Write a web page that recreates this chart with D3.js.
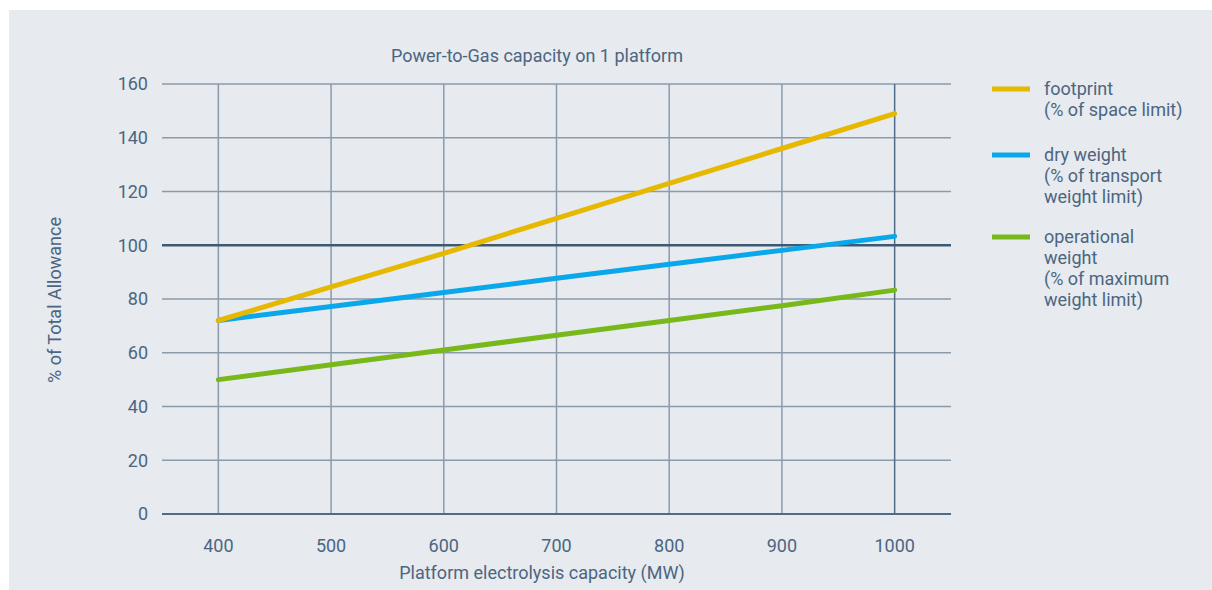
<!DOCTYPE html>
<html>
<head>
<meta charset="utf-8">
<script src="https://cdn.jsdelivr.net/npm/d3@7"></script>
<style>
  html, body { margin: 0; padding: 0; background: #ffffff; }
  svg { display: block; }
  text { font-family: Roboto, "Noto Sans", sans-serif; fill: #4b6680; }
</style>
</head>
<body>
<svg id="chart" width="1212" height="590"></svg>
<script>
// Platform electrolysis capacity (MW)
const capacities = [400, 500, 600, 700, 800, 900, 1000];
// Share of allowance used, per series (%)
const footprint = [72, 84.5, 97, 110, 123, 136, 149];
const dryWeight = [72, 77.2, 82.4, 87.7, 92.9, 98.1, 103.3];
const operationalWeight = [50, 55.5, 61, 66.5, 72, 77.5, 83.3];
const yTicks = [0, 20, 40, 60, 80, 100, 120, 140, 160];
const xTicks = [400, 500, 600, 700, 800, 900, 1000];
const legendLabels = [
  ["footprint", "(% of space limit)"],
  ["dry weight", "(% of transport", "weight limit)"],
  ["operational", "weight", "(% of maximum", "weight limit)"]
];
const colors = ["#e6b800", "#0aa7ea", "#78b81b"];

const FS = 18;
const svg = d3.select("#chart");

// panel background
svg.append("rect").attr("x", 9).attr("y", 10).attr("width", 1203).attr("height", 580)
  .attr("fill", "#e7eaef");

const x = d3.scaleLinear().domain([350, 1050]).range([162, 951]);
const y = d3.scaleLinear().domain([0, 160]).range([514, 84]);

// horizontal grid
svg.append("g").selectAll("line").data(yTicks.filter(d => d !== 0 && d !== 100)).join("line")
  .attr("x1", x(350)).attr("x2", x(1050))
  .attr("y1", d => y(d)).attr("y2", d => y(d))
  .attr("stroke", "#8a9bab").attr("stroke-width", 1.5);

// vertical grid
svg.append("g").selectAll("line").data(xTicks).join("line")
  .attr("x1", d => x(d)).attr("x2", d => x(d))
  .attr("y1", y(160)).attr("y2", y(0))
  .attr("stroke", d => d === 1000 ? "#4f6b86" : "#8a9bab").attr("stroke-width", 1.5);

// baseline and 100% reference line
svg.append("line").attr("x1", x(350)).attr("x2", x(1050)).attr("y1", y(0)).attr("y2", y(0))
  .attr("stroke", "#4f6b86").attr("stroke-width", 2);
svg.append("line").attr("x1", x(350)).attr("x2", x(1050)).attr("y1", y(100)).attr("y2", y(100))
  .attr("stroke", "#3e5a73").attr("stroke-width", 2.5);

// y tick labels
svg.append("g").selectAll("text").data(yTicks).join("text")
  .attr("x", 148).attr("y", d => y(d)).attr("dy", "0.35em")
  .attr("text-anchor", "end").attr("font-size", FS)
  .text(d => d);

// x tick labels
svg.append("g").selectAll("text").data(xTicks).join("text")
  .attr("x", d => x(d)).attr("y", 546).attr("dy", "0.35em")
  .attr("text-anchor", "middle").attr("font-size", FS)
  .text(d => d);

// titles
svg.append("text").attr("x", 537).attr("y", 56).attr("dy", "0.35em")
  .attr("text-anchor", "middle").attr("font-size", FS)
  .text("Power-to-Gas capacity on 1 platform");
svg.append("text").attr("x", 542).attr("y", 573).attr("dy", "0.35em")
  .attr("text-anchor", "middle").attr("font-size", FS)
  .text("Platform electrolysis capacity (MW)");
svg.append("text").attr("transform", "translate(55,300) rotate(-90)").attr("dy", "0.35em")
  .attr("text-anchor", "middle").attr("font-size", FS)
  .text("% of Total Allowance");

// series lines
const series = [footprint, dryWeight, operationalWeight];
const line = d3.line().x((d, i) => x(capacities[i])).y(d => y(d));
svg.append("g").selectAll("path").data(series.map((s, i) => ({ s, i })).reverse()).join("path")
  .attr("d", d => line(d.s))
  .attr("fill", "none")
  .attr("stroke", d => colors[d.i])
  .attr("stroke-width", 5)
  .attr("stroke-linecap", "round")
  .attr("stroke-linejoin", "round");

// legend
const legendY = [89, 155, 237];
const lg = svg.append("g");
legendLabels.forEach((lines, i) => {
  lg.append("line").attr("x1", 992).attr("x2", 1030)
    .attr("y1", legendY[i]).attr("y2", legendY[i])
    .attr("stroke", colors[i]).attr("stroke-width", 5);
  lines.forEach((t, j) => {
    lg.append("text").attr("x", 1044).attr("y", legendY[i] + j * 21).attr("dy", "0.35em")
      .attr("font-size", FS).text(t);
  });
});
</script>
</body>
</html>
